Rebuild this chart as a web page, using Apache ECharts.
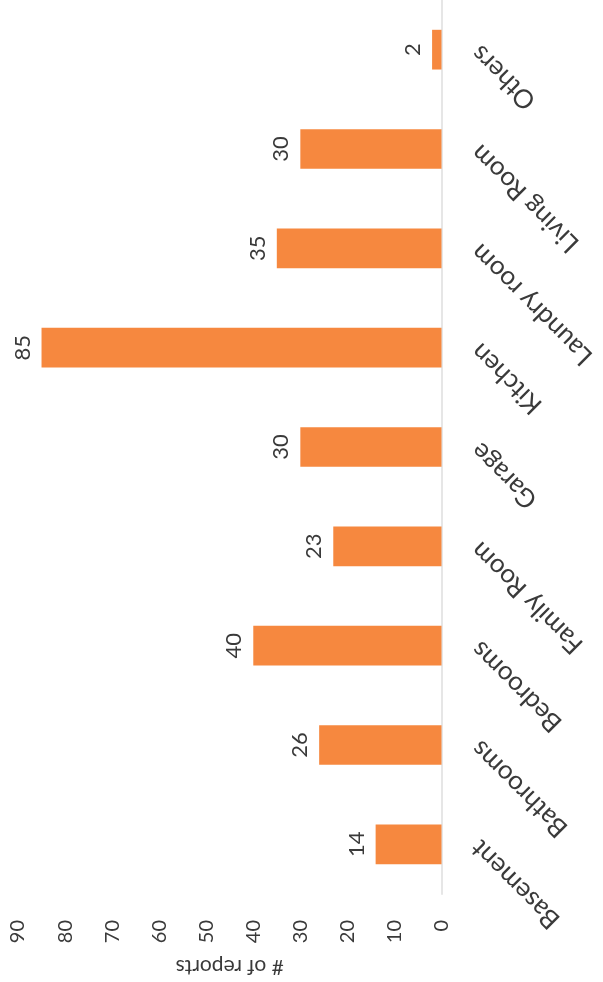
<!DOCTYPE html>
<html>
<head>
<meta charset="utf-8">
<script src="https://cdn.jsdelivr.net/npm/echarts@6/dist/echarts.min.js"></script>
<style>
  html, body { margin: 0; padding: 0; background: #fff; }
  #chart { width: 603px; height: 982px; }
</style>
</head>
<body>
<div id="chart"></div>
<script>
// Number of reports per room
const rooms = ['Basement', 'Bathrooms', 'Bedrooms', 'Family Room', 'Garage', 'Kitchen', 'Laundry room', 'Living Room', 'Others'];
const reports = [14, 26, 40, 23, 30, 85, 35, 30, 2];
const valueTicks = { min: 0, max: 90, interval: 10 };
const valueAxisName = '# of reports';

const FONT = 'Lato, "Liberation Sans", sans-serif';
const TEXT = '#3a3a3a';
const BAR = '#F6883F';

const chart = echarts.init(document.getElementById('chart'), null, { renderer: 'canvas' });
chart.setOption({
  backgroundColor: '#ffffff',
  animation: false,
  grid: { left: 18, right: 161.5, top: 0, bottom: 80, containLabel: false },
  xAxis: {
    type: 'value',
    inverse: true,
    position: 'bottom',
    min: valueTicks.min,
    max: valueTicks.max,
    interval: valueTicks.interval,
    name: valueAxisName,
    nameLocation: 'middle',
    nameRotate: 180,
    nameGap: 62,
    nameTextStyle: { fontFamily: FONT, fontSize: 21, color: TEXT },
    axisLine: { show: false },
    axisTick: { show: false },
    splitLine: { show: false },
    axisLabel: {
      rotate: 90,
      margin: 26,
      fontFamily: FONT,
      fontSize: 20,
      color: TEXT
    }
  },
  yAxis: {
    type: 'category',
    position: 'right',
    data: rooms,
    axisLine: { show: true, lineStyle: { color: '#e6e6e6', width: 2 } },
    axisTick: { show: false },
    axisLabel: {
      interval: 0,
      rotate: 135,
      align: 'right',
      verticalAlign: 'middle',
      margin: 34,
      fontFamily: FONT,
      fontSize: 26,
      color: TEXT
    }
  },
  series: [{
    type: 'bar',
    data: reports,
    barCategoryGap: '60%',
    itemStyle: { color: BAR },
    label: {
      show: true,
      position: 'left',
      distance: 8,
      rotate: 90,
      align: 'center',
      verticalAlign: 'bottom',
      fontFamily: FONT,
      fontSize: 22,
      color: TEXT
    }
  }]
});
</script>
</body>
</html>
